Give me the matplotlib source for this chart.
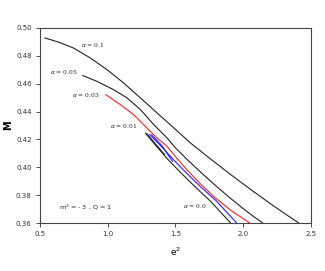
import matplotlib
matplotlib.use('Agg')
import matplotlib.pyplot as plt

# alpha = 0.1
x_a10 = [0.537, 0.64, 0.747, 0.87, 0.994, 1.117, 1.241, 1.364, 1.488, 1.611, 1.75, 1.90, 2.05, 2.20, 2.31, 2.41]
y_a10 = [0.4928, 0.4897, 0.4856, 0.4785, 0.4701, 0.4605, 0.4498, 0.4390, 0.4282, 0.4174, 0.4066, 0.3953, 0.3844, 0.3739, 0.3665, 0.3600]
# alpha = 0.05
x_a05 = [0.816, 0.92, 1.043, 1.142, 1.241, 1.34, 1.438, 1.50, 1.60, 1.70, 1.80, 1.90, 2.00, 2.08, 2.144]
y_a05 = [0.4658, 0.4617, 0.4557, 0.4498, 0.4414, 0.4306, 0.4210, 0.4139, 0.4043, 0.3952, 0.3865, 0.3782, 0.3703, 0.3644, 0.3600]
# alpha = 0.03
x_a03 = [0.986, 1.093, 1.191, 1.29, 1.364, 1.438, 1.51, 1.586, 1.68, 1.784, 1.91, 2.048]
y_a03 = [0.4521, 0.4450, 0.4378, 0.4282, 0.4210, 0.4151, 0.4065, 0.3981, 0.3885, 0.3789, 0.3690, 0.3600]
# alpha = 0.01 (two branches)
x_a01 = [1.31, 1.40, 1.49, 1.585, 1.685, 1.80, 1.952]
y_a01 = [0.4235, 0.4145, 0.4050, 0.3955, 0.3861, 0.3760, 0.3600]
x_a01b = [1.325, 1.40, 1.478]
y_a01b = [0.4232, 0.4155, 0.4042]
# alpha = 0.0 (two branches)
x_a00 = [1.278, 1.36, 1.45, 1.55, 1.65, 1.76, 1.907]
y_a00 = [0.4245, 0.4150, 0.4050, 0.3950, 0.3855, 0.3755, 0.3600]
x_a00b = [1.29, 1.35, 1.42]
y_a00b = [0.4240, 0.4170, 0.4090]

fig = plt.figure(figsize=(3.25, 2.71), dpi=100)
ax = fig.add_axes([0.123, 0.177, 0.834, 0.72])

lw = 0.8
ax.plot(x_a10, y_a10, color='#222222', lw=lw)
ax.plot(x_a05, y_a05, color='#222222', lw=lw)
ax.plot(x_a03, y_a03, color='#ff2020', lw=lw)
ax.plot(x_a01, y_a01, color='#2020ff', lw=lw)
ax.plot(x_a01b, y_a01b, color='#2020ff', lw=lw)
ax.plot(x_a00, y_a00, color='#222222', lw=lw)
ax.plot(x_a00b, y_a00b, color='#222222', lw=lw)

ax.set_xlim(0.5, 2.5)
ax.set_ylim(0.36, 0.50)
ax.set_xticks([0.5, 1.0, 1.5, 2.0, 2.5])
ax.set_xticklabels(['0.5', '1.0', '1.5', '2.0', '2.5'])
ax.set_yticks([0.36, 0.38, 0.40, 0.42, 0.44, 0.46, 0.48, 0.50])
ax.set_yticklabels(['0.36', '0.38', '0.40', '0.42', '0.44', '0.46', '0.48', '0.50'])
ax.tick_params(direction='out', length=3, width=0.6, labelsize=5, colors='#333333', pad=3)
for s in ax.spines.values():
    s.set_linewidth(0.8)
    s.set_color('#444444')

ax.set_xlabel('e$^2$', fontsize=6.5, labelpad=6)
ax.set_ylabel('M', fontsize=7, fontweight='bold', labelpad=2)

tf = dict(fontsize=4.3, family='serif', color='#222222', ha='center', va='center')
ax.text(0.89, 0.4880, r'$\alpha$ = 0.1', **tf)
ax.text(0.678, 0.4684, r'$\alpha$ = 0.05', **tf)
ax.text(0.84, 0.4518, r'$\alpha$ = 0.03', **tf)
ax.text(1.115, 0.4294, r'$\alpha$ = 0.01', **tf)
ax.text(1.64, 0.3722, r'$\alpha$ = 0.0', **tf)
ax.text(0.833, 0.3715, 'm$^2$ = - 3 , Q = 1', fontsize=4.6, color='#222222', ha='center', va='center')

fig.savefig('out.png', dpi=100)
